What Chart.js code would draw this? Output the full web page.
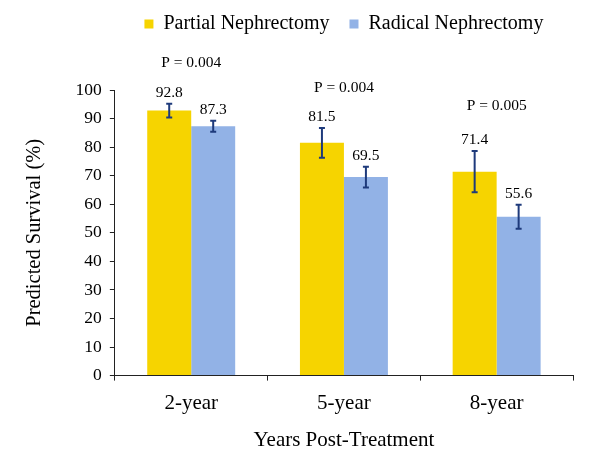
<!DOCTYPE html>
<html>
<head>
<meta charset="utf-8">
<script src="https://cdn.jsdelivr.net/npm/chart.js@4.4.1/dist/chart.umd.min.js"></script>
<style>
	html, body { margin: 0; padding: 0; background: #fff; }
	#wrap { width: 600px; height: 459px; }
</style>
</head>
<body>
<div id="wrap"><canvas id="myChart"></canvas></div>
<script>
var years = ['2-year', '5-year', '8-year']
var partial = [92.8, 81.5, 71.4]
var radical = [87.3, 69.5, 55.6]
var partialErr = [2.4, 5.2, 7.2]
var radicalErr = [1.9, 3.6, 4.2]
var pValues = ['P = 0.004', 'P = 0.004', 'P = 0.005']
// height (in axis units) where each P label sits
var pLevels = [109.5, 100.9, 94.4]

var serif = "'Liberation Serif', 'Times New Roman', serif"
var yellow = '#F6D400'
var blue = '#92B2E6'
var errColor = '#1E3A7B'

// legend sits high, leave a gap down to the plot
var legendGap = {
	id: 'legendGap',
	beforeInit: function(chart) {
		var fit = chart.legend.fit
		chart.legend.fit = function() {
			fit.call(this)
			this.height += 46
		}
	}
}

var errorBars = {
	id: 'errorBars',
	afterDatasetsDraw: function(chart) {
		var ctx = chart.ctx
		var y = chart.scales.y
		var x = chart.scales.x
		ctx.save()
		chart.data.datasets.forEach(function(ds, di) {
			chart.getDatasetMeta(di).data.forEach(function(bar, i) {
				var v = ds.data[i]
				var e = ds.err[i]
				var top = y.getPixelForValue(v + e)
				var bot = y.getPixelForValue(v - e)
				ctx.strokeStyle = errColor
				ctx.lineWidth = 2
				ctx.beginPath()
				ctx.moveTo(bar.x, top)
				ctx.lineTo(bar.x, bot)
				ctx.moveTo(bar.x - 3, top)
				ctx.lineTo(bar.x + 3, top)
				ctx.moveTo(bar.x - 3, bot)
				ctx.lineTo(bar.x + 3, bot)
				ctx.stroke()
				ctx.fillStyle = '#000'
				ctx.font = '15.5px ' + serif
				ctx.textAlign = 'center'
				ctx.textBaseline = 'middle'
				ctx.fillText(v.toFixed(1), bar.x, top - 11)
			})
		})
		ctx.font = '15.5px ' + serif
		ctx.fillStyle = '#000'
		pValues.forEach(function(p, i) {
			ctx.fillText(p, x.getPixelForValue(i), y.getPixelForValue(pLevels[i]))
		})
		ctx.restore()
	}
}

var ctx = document.getElementById('myChart')
var chart = new Chart(ctx, {
	type: 'bar',
	data: {
		labels: years,
		datasets: [{
			label: 'Partial Nephrectomy',
			data: partial,
			err: partialErr,
			backgroundColor: yellow,
		}, {
			label: 'Radical Nephrectomy',
			data: radical,
			err: radicalErr,
			backgroundColor: blue,
		}]
	},
	options: {
		responsive: true,
		maintainAspectRatio: false,
		animation: false,
		categoryPercentage: 0.576,
		barPercentage: 1.0,
		layout: { padding: { top: -6, left: 18, right: 27, bottom: 4 } },
		plugins: {
			legend: {
				position: 'top',
				fullSize: false,
				labels: {
					boxWidth: 9,
					boxHeight: 9,
					padding: 20,
					color: '#000',
					font: { family: serif, size: 20 }
				}
			},
			tooltip: { enabled: false }
		},
		scales: {
			x: {
				grid: { display: true, drawOnChartArea: false, offset: true, tickLength: 5, color: '#222', tickColor: '#222' },
				border: { color: '#222', width: 1 },
				ticks: { color: '#000', padding: 10, font: { family: serif, size: 21 } },
				title: { display: true, text: 'Years Post-Treatment', color: '#000', padding: { top: 2, bottom: 2 }, font: { family: serif, size: 21 } }
			},
			y: {
				min: 0,
				max: 100,
				grid: { display: true, drawOnChartArea: false, tickLength: 5, color: '#222', tickColor: '#222' },
				border: { color: '#222', width: 1 },
				ticks: { stepSize: 10, autoSkip: false, color: '#000', padding: 8, font: { family: serif, size: 17.5 } },
				title: { display: true, text: 'Predicted Survival (%)', color: '#000', padding: { top: 4, bottom: 21 }, font: { family: serif, size: 20.5 } }
			}
		}
	},
	plugins: [legendGap, errorBars]
})
</script>
</body>
</html>
